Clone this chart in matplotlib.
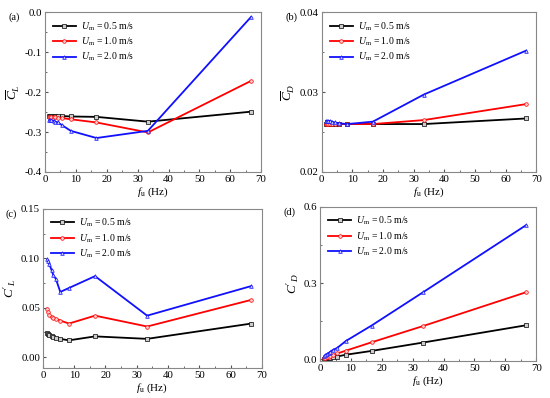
import numpy as np
import matplotlib.pyplot as plt
from matplotlib.ticker import MultipleLocator, AutoMinorLocator

plt.rcParams['font.family'] = ['Liberation Serif', 'DejaVu Serif']
plt.rcParams['mathtext.fontset'] = 'custom'
plt.rcParams['mathtext.rm'] = 'Liberation Serif'
plt.rcParams['mathtext.it'] = 'Liberation Serif:italic'
plt.rcParams['axes.unicode_minus'] = False

# frequency (Hz)
f = [1.39, 1.67, 2.08, 2.78, 3.33, 4.17, 5.56, 8.33, 16.67, 33.33, 66.67]

# (a) mean lift coefficient
cl_mean_05 = [-0.260, -0.260, -0.260, -0.260, -0.260, -0.260, -0.260, -0.261, -0.262, -0.274, -0.249]
cl_mean_10 = [-0.262, -0.262, -0.263, -0.263, -0.263, -0.264, -0.265, -0.268, -0.276, -0.301, -0.172]
cl_mean_20 = [-0.270, -0.271, -0.271, -0.272, -0.274, -0.276, -0.283, -0.297, -0.315, -0.297, -0.012]

# (b) mean drag coefficient
cd_mean_05 = [0.0260, 0.0260, 0.0260, 0.0260, 0.0260, 0.0260, 0.0260, 0.0260, 0.0260, 0.0260, 0.0267]
cd_mean_10 = [0.0260, 0.0260, 0.0260, 0.0260, 0.0260, 0.0260, 0.0260, 0.0260, 0.0260, 0.0265, 0.0285]
cd_mean_20 = [0.0264, 0.0264, 0.0264, 0.0264, 0.0263, 0.0262, 0.0261, 0.0260, 0.0263, 0.0297, 0.0352]

# (c) fluctuating lift coefficient
cl_rms_05 = [0.024, 0.023, 0.022, 0.021, 0.020, 0.019, 0.0185, 0.017, 0.021, 0.0185, 0.034]
cl_rms_10 = [0.049, 0.046, 0.043, 0.041, 0.040, 0.039, 0.037, 0.034, 0.042, 0.031, 0.058]
cl_rms_20 = [0.099, 0.097, 0.094, 0.088, 0.083, 0.079, 0.066, 0.070, 0.082, 0.042, 0.072]

# (d) fluctuating drag coefficient
cd_rms_05 = [0.0028, 0.0034, 0.0042, 0.0055, 0.007, 0.0085, 0.011, 0.018, 0.033, 0.066, 0.134]
cd_rms_10 = [0.006, 0.007, 0.008, 0.011, 0.014, 0.017, 0.023, 0.034, 0.067, 0.131, 0.264]
cd_rms_20 = [0.013, 0.016, 0.020, 0.025, 0.030, 0.037, 0.045, 0.072, 0.133, 0.264, 0.528]

labels = [r'$U_{\rm m}$ = 0.5 m/s', r'$U_{\rm m}$ = 1.0 m/s', r'$U_{\rm m}$ = 2.0 m/s']
colors = ['black', 'red', '#1010ff']
faces = ['#cccccc', '#ffcccc', '#ccccff']
markers = ['s', 'o', '^']

# tag, series, ylabel, ylim, major step, format, axes rect [left, bottom, width, height]
panels = [
    ('(a)', [cl_mean_05, cl_mean_10, cl_mean_20], r'$\overline{C}_{L}$', (-0.4, 0.0), 0.1, '%.1f',
     [0.0818, 0.568, 0.393, 0.401]),
    ('(b)', [cd_mean_05, cd_mean_10, cd_mean_20], r'$\overline{C}_{D}$', (0.02, 0.04), 0.01, '%.2f',
     [0.585, 0.568, 0.390, 0.401]),
    ('(c)', [cl_rms_05, cl_rms_10, cl_rms_20], r"$C'_{L}$", (-0.011, 0.15), 0.05, '%.2f',
     [0.078, 0.0754, 0.398, 0.3995]),
    ('(d)', [cd_rms_05, cd_rms_10, cd_rms_20], r"$C'_{D}$", (-0.0066, 0.6), 0.3, '%.1f',
     [0.582, 0.093, 0.393, 0.387]),
]

fig = plt.figure(figsize=(5.5, 3.98), dpi=100)

for tag, series, ylab, ylim, step, fmt, rect in panels:
    ax = fig.add_axes(rect)
    for s, lab, c, fc, m in zip(series, labels, colors, faces, markers):
        ax.plot(f, s, color=c, lw=1.3, marker=m, ms=2.6, mfc=fc, mec=c, mew=0.5, label=lab)
    ax.set_xlim(0, 70)
    ax.set_ylim(*ylim)
    ax.xaxis.set_major_locator(MultipleLocator(10))
    ax.xaxis.set_minor_locator(AutoMinorLocator(2))
    ax.yaxis.set_major_locator(MultipleLocator(step))
    ax.yaxis.set_minor_locator(AutoMinorLocator(2))
    ax.yaxis.set_major_formatter(plt.FormatStrFormatter(fmt))
    ax.tick_params(which='both', direction='in', top=False, right=False, labelsize=7.8,
                   color='#555555', pad=2)
    ax.tick_params(which='major', length=2.5)
    ax.tick_params(which='minor', length=1.5)
    for sp in ax.spines.values():
        sp.set_color('#888888')
        sp.set_linewidth(0.8)
    ax.set_xlabel(r'$f_{\rm u}$ (Hz)', fontsize=8, labelpad=1)
    ax.set_ylabel(ylab, fontsize=9.5, labelpad=2)
    ax.legend(loc='upper left', fontsize=7, frameon=False, handlelength=2.4,
              handletextpad=0.5, labelspacing=0.3, borderaxespad=0.4)
    ax.text(-0.17, 1.0, tag, transform=ax.transAxes, fontsize=7.5, va='top', ha='left')

fig.savefig('out.png', dpi=100)
